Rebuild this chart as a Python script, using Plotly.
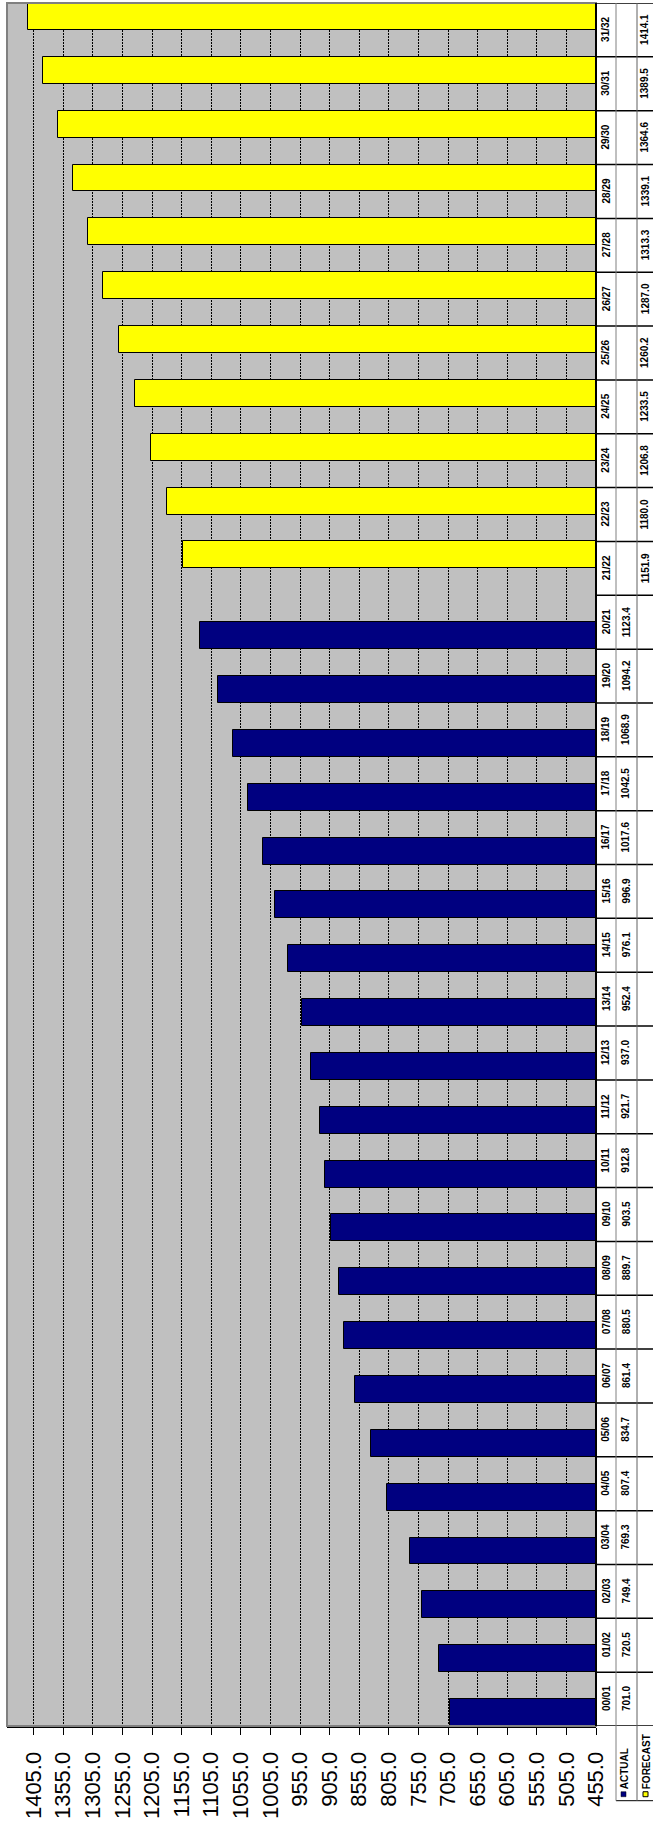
import plotly.graph_objects as go

# Seasons on the category axis (bottom to top)
seasons = [
    "00/01", "01/02", "02/03", "03/04", "04/05", "05/06", "06/07", "07/08",
    "08/09", "09/10", "10/11", "11/12", "12/13", "13/14", "14/15", "15/16",
    "16/17", "17/18", "18/19", "19/20", "20/21", "21/22", "22/23", "23/24",
    "24/25", "25/26", "26/27", "27/28", "28/29", "29/30", "30/31", "31/32",
]

actual_values = [
    701.0, 720.5, 749.4, 769.3, 807.4, 834.7, 861.4, 880.5, 889.7, 903.5,
    912.8, 921.7, 937.0, 952.4, 976.1, 996.9, 1017.6, 1042.5, 1068.9, 1094.2,
    1123.4,
]
forecast_values = [
    1151.9, 1180.0, 1206.8, 1233.5, 1260.2, 1287.0, 1313.3, 1339.1, 1364.6,
    1389.5, 1414.1,
]

actual = actual_values + [None] * (len(seasons) - len(actual_values))
forecast = [None] * (len(seasons) - len(forecast_values)) + forecast_values

value_ticks = list(range(455, 1406, 50))
value_tick_text = [f"{v:.1f}" for v in value_ticks]

W, H = 653, 1822
PLOT_L, PLOT_R, PLOT_T, PLOT_B = 7, 596, 3, 1733
FONT = "Arial, Liberation Sans, sans-serif"


def px(x):
    """pixel column -> paper x"""
    return (x - PLOT_L) / (PLOT_R - PLOT_L)


def py(y):
    """pixel row -> paper y"""
    return (PLOT_B - y) / (PLOT_B - PLOT_T)


fig = go.Figure()
fig.add_trace(go.Bar(
    y=seasons, x=actual, orientation="h", name="ACTUAL",
    marker=dict(color="#000080", line=dict(color="#000000", width=1)),
))
fig.add_trace(go.Bar(
    y=seasons, x=forecast, orientation="h", name="FORECAST",
    marker=dict(color="#FFFF00", line=dict(color="#000000", width=1)),
))

shapes = []
annotations = []

# plot-area frame (grey) and the category axis line at the value minimum
shapes.append(dict(type="rect", xref="paper", yref="paper", x0=0, x1=1, y0=0, y1=1,
                   line=dict(color="#808080", width=2), layer="above"))
shapes.append(dict(type="line", xref="paper", yref="paper", x0=1, x1=1, y0=0, y1=1,
                   line=dict(color="#000000", width=2), layer="above"))

# data table beside the plot
col_edges = [px(596), px(616), px(637), px(660)]
for k in range(len(seasons) + 1):
    shapes.append(dict(type="line", xref="paper", yref="y",
                       x0=col_edges[0], x1=col_edges[3], y0=k - 0.5, y1=k - 0.5,
                       line=dict(color="#000000", width=1.5)))
legend_bottom = py(1808)
shapes.append(dict(type="line", xref="paper", yref="paper", x0=col_edges[1], x1=col_edges[3],
                   y0=legend_bottom, y1=legend_bottom, line=dict(color="#000000", width=1)))
shapes.append(dict(type="line", xref="paper", yref="paper", x0=col_edges[1], x1=col_edges[1],
                   y0=legend_bottom, y1=1, line=dict(color="#808080", width=1)))
shapes.append(dict(type="line", xref="paper", yref="paper", x0=col_edges[2], x1=col_edges[2],
                   y0=legend_bottom, y1=1, line=dict(color="#606060", width=1)))

cell_font = dict(family=FONT, size=10, color="#000000")


def cell(x_pixel, y_value, text):
    return dict(x=px(x_pixel), y=y_value, xref="paper", yref="y", text=f"<b>{text}</b>",
                textangle=-90, showarrow=False, xanchor="center", yanchor="middle",
                font=cell_font, borderpad=0)


for s, a, f in zip(seasons, actual, forecast):
    annotations.append(cell(606, s, s))
    if a is not None:
        annotations.append(cell(626, s, f"{a:.1f}"))
    if f is not None:
        annotations.append(cell(645, s, f"{f:.1f}"))

# legend keys in the table
shapes.append(dict(type="rect", xref="paper", yref="paper", x0=px(621), x1=px(626),
                   y0=py(1804), y1=py(1799), fillcolor="#000080", line=dict(color="#000000", width=0.5)))
shapes.append(dict(type="rect", xref="paper", yref="paper", x0=px(643), x1=px(648),
                   y0=py(1804), y1=py(1799), fillcolor="#FFFF00", line=dict(color="#000000", width=1)))
annotations.append(dict(x=px(624), y=py(1798), xref="paper", yref="paper", text="<b>ACTUAL</b>",
                        textangle=-90, showarrow=False, xanchor="center", yanchor="bottom",
                        font=cell_font, borderpad=0))
annotations.append(dict(x=px(646), y=py(1798), xref="paper", yref="paper", text="<b>FORECAST</b>",
                        textangle=-90, showarrow=False, xanchor="center", yanchor="bottom",
                        font=cell_font, borderpad=0))

fig.update_layout(
    width=W, height=H, autosize=False,
    margin=dict(l=PLOT_L, r=W - PLOT_R, t=PLOT_T, b=H - PLOT_B, pad=0),
    paper_bgcolor="#FFFFFF", plot_bgcolor="#C0C0C0",
    barmode="group", bargap=0, bargroupgap=0,
    showlegend=False,
    font=dict(family=FONT, color="#000000"),
    shapes=shapes, annotations=annotations,
    xaxis=dict(
        range=[1450, 455], tickmode="array", tickvals=value_ticks, ticktext=value_tick_text,
        tickangle=-90, tickfont=dict(family=FONT, size=22, color="#000000"),
        ticks="outside", ticklen=7, tickcolor="#000000", tickwidth=1,
        ticklabelstandoff=8,
        showline=True, linecolor="#000000", linewidth=2,
        showgrid=True, gridcolor="#000000", gridwidth=1, griddash="2px,1px",
        zeroline=False, fixedrange=True,
    ),
    yaxis=dict(
        type="category", categoryorder="array", categoryarray=seasons,
        range=[-0.5, len(seasons) - 0.5], showticklabels=False, ticks="",
        showgrid=False, zeroline=False, showline=False, fixedrange=True,
    ),
)

fig.write_html("out.html")
